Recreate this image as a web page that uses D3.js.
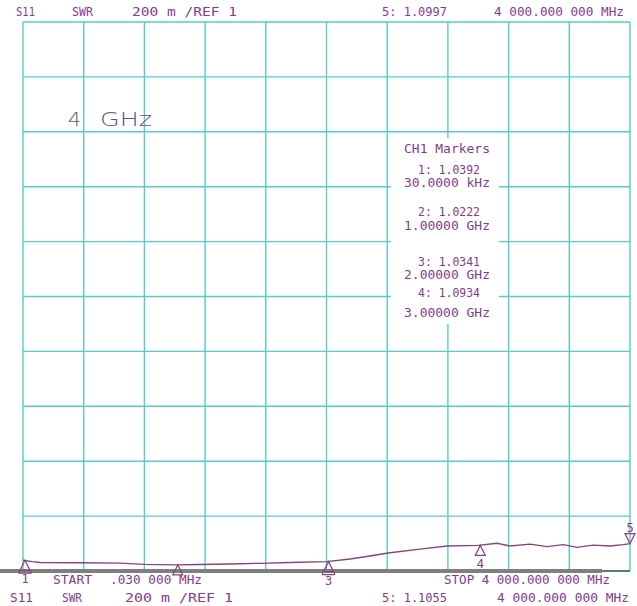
<!DOCTYPE html>
<html lang="en">
<head>
  <meta charset="UTF-8">
  <title>S11 SWR 4 GHz</title>
  <script src="https://d3js.org/d3.v7.min.js"></script>
  <style>
    body { margin: 0; background: #fff; }
    svg text { font-family: "DejaVu Sans Mono", monospace; fill: #8a3a8a; }
  </style>
</head>
<body>
  <svg width="637" height="606"></svg>
  <script>
    // trace: frequency (MHz) vs SWR
    const freqs = [0.03, 60, 112, 376, 639, 804, 1000, 1166, 1364, 1562, 1760, 2000,
                   2155, 2287, 2405, 2616, 2794, 3000, 3124, 3209, 3341, 3453, 3559,
                   3651, 3756, 3868, 3954, 4000];
    const swr   = [1.0392, 1.034, 1.031, 1.030, 1.029, 1.024, 1.0222, 1.0237, 1.0255, 1.028, 1.031, 1.0341,
                   1.0437, 1.0546, 1.0656, 1.080, 1.091, 1.0934, 1.101, 1.091, 1.098, 1.0885, 1.096,
                   1.086, 1.094, 1.091, 1.096, 1.0997];

    // markers
    const markerIds   = [1, 2, 3, 4, 5];
    const markerFreqs = [0.03, 1000, 2000, 3000, 4000];
    const markerSwr   = [1.0392, 1.0222, 1.0341, 1.0934, 1.0997];
    const markerBox   = ["CH1 Markers", "1: 1.0392", "30.0000 kHz", "2: 1.0222", "1.00000 GHz",
                         "3: 1.0341", "2.00000 GHz", "4: 1.0934", "3.00000 GHz"];

    const divisions = d3.range(0, 11);

    const svg = d3.select("svg");
    const x = d3.scaleLinear().domain([0.03, 4000]).range([23, 630]);
    const y = d3.scaleLinear().domain([1, 3]).range([571, 22]);
    const gx = d3.scaleLinear().domain([0, 10]).range([23, 630]);
    const gy = d3.scaleLinear().domain([0, 10]).range([571, 22]);

    // text spanning x0..x1
    function txt(s, x0, x1, ty, size) {
      return svg.append("text").attr("x", x0).attr("y", ty)
        .attr("font-size", size || 12)
        .attr("textLength", x1 - x0).attr("lengthAdjust", "spacingAndGlyphs")
        .text(s);
    }

    const grid = svg.append("g").attr("stroke", "#55cdc6").attr("stroke-width", 1.4);
    grid.selectAll(".v").data(divisions).join("line")
      .attr("x1", d => gx(d)).attr("x2", d => gx(d))
      .attr("y1", gy(10)).attr("y2", gy(0));
    grid.selectAll(".h").data(divisions).join("line")
      .attr("x1", gx(0)).attr("x2", gx(10))
      .attr("y1", d => gy(d)).attr("y2", d => gy(d));

    // header
    txt("S11", 16, 35, 16);
    txt("SWR", 72, 93, 16);
    txt("200 m /REF 1", 132, 237, 16);
    txt("5: 1.0997", 382, 447, 16);
    txt("4 000.000 000 MHz", 494, 624, 16);

    // big label
    txt("4", 68, 81, 126, 19).style("font-family", "DejaVu Sans").style("fill", "#6b4f78").style("font-weight", 200);
    txt("GHz", 100, 152, 126, 19).style("font-family", "DejaVu Sans").style("fill", "#6b4f78").style("font-weight", 200);

    // marker box
    svg.append("rect").attr("x", 391).attr("y", 138).attr("width", 108).attr("height", 186)
      .attr("fill", "#fff");
    const boxY = [153, 174, 187, 216, 230, 266, 279, 297, 317];
    markerBox.forEach((s, i) => {
      const long = s.length > 9;
      txt(s, long ? 404 : 418, long ? 490 : 480, boxY[i], 12);
    });

    // trace
    const line = d3.line().x(d => x(d[0])).y(d => y(d[1]));
    svg.append("path").datum(d3.zip(freqs, swr))
      .attr("d", line).attr("fill", "none")
      .attr("stroke", "#86447e").attr("stroke-width", 1.3);

    // grey bar
    svg.append("rect").attr("x", 0).attr("y", 569).attr("width", 602).attr("height", 4).attr("fill", "#7f7f7f");
    svg.append("line").attr("x1", 602).attr("x2", 630).attr("y1", 571).attr("y2", 571)
      .attr("stroke", "#222").attr("stroke-width", 1);

    // markers
    const mk = svg.append("g").attr("fill", "none").attr("stroke", "#86447e").attr("stroke-width", 1.2);
    markerIds.forEach((id, i) => {
      const mx = x(markerFreqs[i]), my = y(markerSwr[i]);
      const px = id === 2 ? mx + 3 : mx + 2;
      if (id === 5) {
        mk.append("path").attr("d", `M${mx},${my} l-5,-10 h10 z`);
        svg.append("text").attr("x", mx).attr("y", my - 12).attr("text-anchor", "middle")
          .attr("font-size", 12).text(id);
      } else {
        mk.append("path").attr("d", `M${px},${my} l-5,10 h10 z`);
        if (id !== 2) {
          svg.append("text").attr("x", px).attr("y", my + 23).attr("text-anchor", "middle")
            .attr("font-size", 12).text(id);
        }
        if (id === 1 || id === 3) {
          mk.append("path").attr("d", `M${px - 6},${my + 10} v3 h12 v-3`);
        }
      }
    });

    // footer
    txt("START", 53, 92, 584);
    txt(".030 000 MHz", 110, 202, 584);
    txt("STOP 4 000.000 000 MHz", 444, 610, 584);
    txt("S11", 10, 33, 602);
    txt("SWR", 62, 82, 602);
    txt("200 m /REF 1", 125, 233, 602);
    txt("5: 1.1055", 382, 447, 602);
    txt("4 000.000 000 MHz", 497, 629, 602);
  </script>
</body>
</html>
